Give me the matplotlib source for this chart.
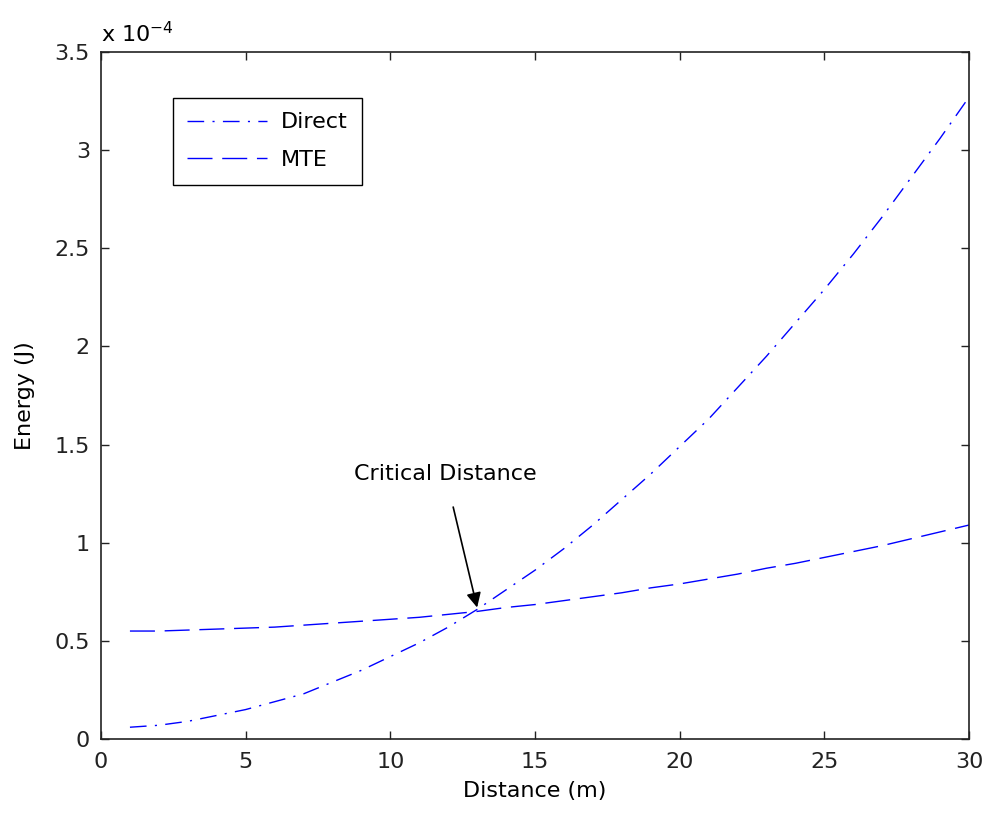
import matplotlib
matplotlib.use('Agg')
import matplotlib.pyplot as plt

# distance in m, energy in units of 1e-4 J
distance = [1, 2, 3, 4, 5, 6, 7, 8, 9, 10, 11, 12, 13, 14, 15,
            16, 17, 18, 19, 20, 21, 22, 23, 24, 25, 26, 27, 28, 29, 30]
direct = [0.06, 0.07, 0.09, 0.12, 0.15, 0.19, 0.23, 0.29, 0.35, 0.42,
          0.49, 0.57, 0.66, 0.76, 0.86, 0.97, 1.09, 1.22, 1.35, 1.49,
          1.63, 1.79, 1.95, 2.12, 2.29, 2.47, 2.66, 2.86, 3.06, 3.27]
mte = [0.55, 0.55, 0.555, 0.56, 0.565, 0.57, 0.58, 0.59, 0.60, 0.61,
       0.62, 0.635, 0.65, 0.67, 0.685, 0.705, 0.725, 0.745, 0.77, 0.79,
       0.815, 0.84, 0.87, 0.895, 0.925, 0.955, 0.985, 1.02, 1.055, 1.09]
xticks = [0, 5, 10, 15, 20, 25, 30]
yticks = [0, 0.5, 1, 1.5, 2, 2.5, 3, 3.5]
ytick_labels = ['0', '0.5', '1', '1.5', '2', '2.5', '3', '3.5']

plt.rcParams['font.family'] = ['DejaVu Sans']
plt.rcParams['font.size'] = 16

fig = plt.figure(figsize=(9.88, 8.14), dpi=100)
ax = fig.add_axes([101/988, 1 - 739/814, 868/988, 687/814])

ax.plot(distance, direct, color='#0000ff', lw=1.0, dashes=(12, 6, 1.5, 6), label='Direct')
ax.plot(distance, mte, color='#0000ff', lw=1.0, dashes=(18, 7), label='MTE')

ax.set_xlim(0, 30)
ax.set_ylim(0, 3.5)
ax.set_xticks(xticks)
ax.set_yticks(yticks)
ax.set_yticklabels(ytick_labels)
ax.tick_params(direction='in', length=6, width=1, top=True, right=True, colors='#222222')
ax.tick_params(axis='x', pad=9)
ax.tick_params(axis='y', pad=8)
for s in ax.spines.values():
    s.set_linewidth(1.2)
    s.set_color('#222222')

ax.set_xlabel('Distance (m)', labelpad=7)
ax.set_ylabel('Energy (J)', labelpad=14)
ax.text(0.0, 1.008, r'x 10$^{-4}$', transform=ax.transAxes, ha='left', va='bottom')

leg = ax.legend(loc='upper left', bbox_to_anchor=(0.083, 0.933), borderaxespad=0,
                fancybox=False, edgecolor='black', framealpha=1, handlelength=3.6,
                borderpad=0.65, labelspacing=0.8, handletextpad=0.6)
leg.get_frame().set_linewidth(1.0)

ax.annotate('Critical Distance', xy=(13.0, 0.67), xytext=(11.9, 1.35),
            ha='center', va='center',
            arrowprops=dict(arrowstyle='-|>', color='black', lw=1.2, mutation_scale=22,
                            shrinkA=15, shrinkB=0))

fig.savefig('out.png', dpi=100)
